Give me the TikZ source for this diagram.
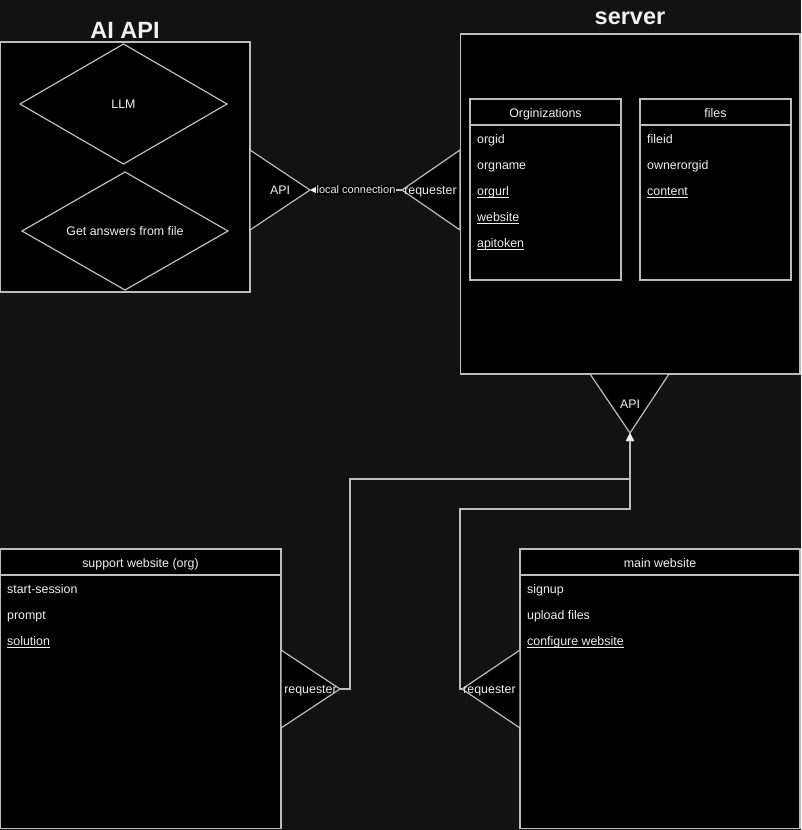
\documentclass[tikz,border=0pt]{standalone}
\usepackage{fontspec}
\setmainfont{Liberation Sans}
\usetikzlibrary{arrows.meta}
\definecolor{bg}{HTML}{121212}
\definecolor{ln}{HTML}{BDBDBD}
\definecolor{tx}{HTML}{F0F0F0}
\newcommand\myul[1]{\setbox0\hbox{#1}\rlap{\rule[-1.8pt]{\wd0}{0.7pt}}\box0}
\begin{document}
\begin{tikzpicture}[x=1pt,y=-1pt,
  frame/.style={draw=ln,fill=black,line width=1.2pt},
  txt/.style={text=tx,inner sep=0pt,font=\fontsize{12.4}{14}\selectfont},
  item/.style={txt,anchor=base west},
  ctr/.style={txt,anchor=base},
  ttl/.style={text=tx,inner sep=0pt,anchor=base,font=\fontsize{23.5}{28}\selectfont\bfseries},
  conn/.style={draw=ln,line width=1.2pt},
  tip/.style={-{Triangle[length=8pt,width=8pt,fill=tx,color=tx]}},
  lbl/.style={fill=black,text=tx,inner sep=1pt,font=\fontsize{11}{13}\selectfont}]

\fill[bg] (0,0) rectangle (801,830);
\useasboundingbox (0,0) rectangle (801,830);

% ---------- AI API ----------
\node[ttl] (aititle) at (125,38.5) {AI API};
\draw[frame] (0.6,42) rectangle (250,292);
\draw[frame] (20,104) -- (123.5,44) -- (227,104) -- (123.5,164) -- cycle;
\node[ctr] (llm) at (123.5,108.5) {LLM};
\draw[frame] (22,231) -- (125,172) -- (228,231) -- (125,290) -- cycle;
\node[ctr] (getans) at (125,235.5) {Get answers from file};

% left API triangle
\draw[frame] (250,150) -- (310,190) -- (250,230) -- cycle;
\coordinate (apiL) at (310,190);
\node[ctr] (apiLtxt) at (280,194.5) {API};

% requester triangle on server
\draw[frame] (460,150) -- (402,190) -- (460,230) -- cycle;
\coordinate (rqR) at (402,190);
\node[ctr] (rqRtxt) at (430.5,194.5) {requester};

% ---------- server ----------
\node[ttl] (srvtitle) at (630,24) {server};
\draw[frame] (460.6,34) rectangle (800,374);

% Orginizations table
\draw[frame] (470,99) rectangle (621,280);
\draw[conn] (470,125) -- (621,125);
\node[ctr] (orgh) at (545.5,117.5) {Orginizations};
\node[item] (o1) at (477,143.5) {orgid};
\node[item] (o2) at (477,169.5) {orgname};
\node[item] (o3) at (477,195.5) {\myul{orgurl}};
\node[item] (o4) at (477,221.5) {\myul{website}};
\node[item] (o5) at (477,247.5) {\myul{apitoken}};

% files table
\draw[frame] (640,99) rectangle (791,280);
\draw[conn] (640,125) -- (791,125);
\node[ctr] (fh) at (715.5,117.5) {files};
\node[item] (f1) at (647,143.5) {fileid};
\node[item] (f2) at (647,169.5) {ownerorgid};
\node[item] (f3) at (647,195.5) {\myul{content}};

% server API triangle
\draw[frame] (590,374) -- (669,374) -- (630,433) -- cycle;
\coordinate (apiS) at (630,433);
\node[ctr] (apiStxt) at (630,408.5) {API};

% ---------- support website ----------
\draw[frame] (0.6,549) rectangle (281,828.6);
\draw[conn] (0.6,575) -- (281,575);
\node[ctr] (sh) at (140.5,567.5) {support website (org)};
\node[item] (s1) at (7,593.5) {start-session};
\node[item] (s2) at (7,619.5) {prompt};
\node[item] (s3) at (7,645.5) {\myul{solution}};
\draw[frame] (281,650) -- (340,689) -- (281,728) -- cycle;
\coordinate (rqS) at (340,689);
\node[ctr] (rqStxt) at (310.5,693.5) {requester};

% ---------- main website ----------
\draw[frame] (520,549) rectangle (800,828.6);
\draw[conn] (520,575) -- (800,575);
\node[ctr] (mh) at (660,567.5) {main website};
\node[item] (m1) at (527,593.5) {signup};
\node[item] (m2) at (527,619.5) {upload files};
\node[item] (m3) at (527,645.5) {\myul{configure website}};
\draw[frame] (520,650) -- (462,689) -- (520,728) -- cycle;
\coordinate (rqM) at (462,689);
\node[ctr] (rqMtxt) at (489.5,693.5) {requester};

% ---------- connectors ----------
\draw[conn,tip] (rqR) -- (apiL) node[lbl,midway] (lc) {local connection};
\draw[conn,tip] (rqM) -- ++(-2,0) |- (630,509) -- (apiS);
\draw[conn,tip] (rqS) -- ++(10,0) |- (630,479) -- (apiS);
\end{tikzpicture}
\end{document}
